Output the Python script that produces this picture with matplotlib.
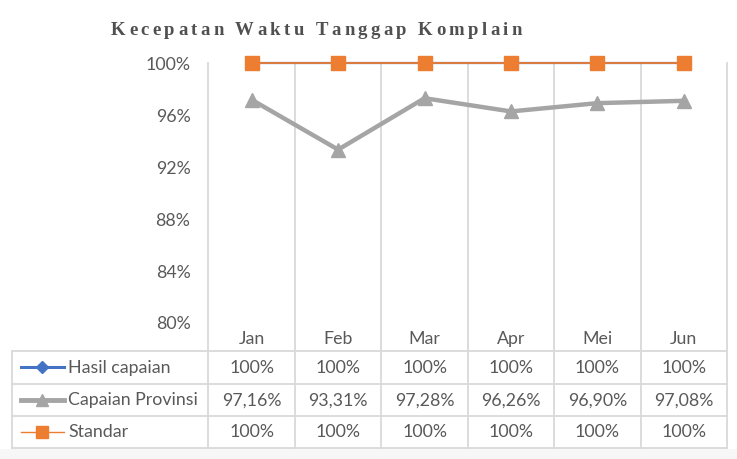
import matplotlib
matplotlib.use("Agg")
import matplotlib.pyplot as plt
from matplotlib.textpath import TextToPath
from matplotlib.font_manager import FontProperties

title = "Kecepatan Waktu Tanggap Komplain"
months = ["Jan", "Feb", "Mar", "Apr", "Mei", "Jun"]
series_names = ["Hasil capaian", "Capaian Provinsi", "Standar"]
hasil = [100, 100, 100, 100, 100, 100]
provinsi = [97.16, 93.31, 97.28, 96.26, 96.90, 97.08]
standar = [100, 100, 100, 100, 100, 100]
yticks = [80, 84, 88, 92, 96, 100]

W, H = 737, 460
fig = plt.figure(figsize=(W / 100, H / 100), dpi=100)
fig.patch.set_facecolor("white")

grid_c = "#D9D9D9"
text_c = "#595959"
font = "Lato"
fs = 12.8

# plot area in pixels
px0, px1 = 208.5, 727
py0, py1 = 64, 323

def fx(x):
    return x / W

def fy(y):
    return 1 - y / H

ax = fig.add_axes([fx(px0), fy(py1), (px1 - px0) / W, (py1 - py0) / H])
ax.set_xlim(-0.5, len(months) - 0.5)
ax.set_ylim(80, 100)
for s in ax.spines.values():
    s.set_visible(False)
ax.set_xticks([])
ax.set_yticks(yticks)
ax.set_yticklabels([f"{t}%" for t in yticks], color=text_c, fontsize=fs, family=font)
ax.tick_params(axis="y", length=0, pad=13)
ax.set_facecolor("none")

x = list(range(len(months)))
ax.plot(x, hasil, color="#4472C4", lw=1.6, marker="D", ms=6.5, zorder=3, clip_on=False)
ax.plot(x, provinsi, color="#A5A5A5", lw=3.2, marker="^", ms=10, zorder=4, clip_on=False)
ax.plot(x, standar, color="#ED7D31", lw=1.3, marker="s", ms=9.5, zorder=5, clip_on=False)

# overlay for table and gridlines
ov = fig.add_axes([0, 0, 1, 1], zorder=-1)
ov.set_xlim(0, W)
ov.set_ylim(H, 0)
ov.axis("off")

cell_w = (px1 - px0) / len(months)
col_edges = [px0 + i * cell_w for i in range(len(months) + 1)]
tx0 = 12
row_edges = [352, 384.5, 416.5, 448.5]

ov.axhspan(450, H, color="#F7F7F7", lw=0)

for cx in col_edges:
    ov.plot([cx, cx], [py0, row_edges[-1]], color=grid_c, lw=1.3)
ov.plot([tx0, tx0], [row_edges[0], row_edges[-1]], color=grid_c, lw=1.3)
for ry in row_edges:
    ov.plot([tx0, px1], [ry, ry], color=grid_c, lw=1.3)

for i, m in enumerate(months):
    cx = col_edges[i] + cell_w / 2
    ov.text(cx, (py1 + row_edges[0]) / 2 + 2, m, ha="center", va="center",
            fontsize=fs, color=text_c, family=font)

def fmt(v):
    if float(v).is_integer():
        return f"{int(v)}%"
    return f"{v:.2f}".replace(".", ",") + "%"

styles = [
    dict(color="#4472C4", lw=2.2, marker="D", ms=6.5),
    dict(color="#A5A5A5", lw=3.5, marker="^", ms=9),
    dict(color="#ED7D31", lw=1, marker="s", ms=8),
]
for r, (name, vals, st) in enumerate(zip(series_names, [hasil, provinsi, standar], styles)):
    cy = (row_edges[r] + row_edges[r + 1]) / 2
    ov.plot([21, 42, 64], [cy, cy, cy], markevery=[1], **st)
    ov.text(68, cy, name, ha="left", va="center", fontsize=fs, color=text_c, family=font)
    for i, v in enumerate(vals):
        cx = col_edges[i] + cell_w / 2
        ov.text(cx, cy, fmt(v), ha="center", va="center", fontsize=fs,
                color=text_c, family=font)

# spaced-out title
fp = FontProperties(family="Liberation Serif", weight="bold", size=13.5)
t2p = TextToPath()
widths = [t2p.get_text_width_height_descent(ch, fp, ismath=False)[0] * 100 / 72 for ch in title]
tstart, tend = 111, 522
extra = (tend - tstart - widths[-1] - sum(widths[:-1])) / (len(title) - 1)
cur = tstart
for ch, w in zip(title, widths):
    ov.text(cur, 30.5, ch, ha="left", va="center", fontproperties=fp, color="#505050")
    cur += w + extra

fig.savefig("out.png", dpi=100)
